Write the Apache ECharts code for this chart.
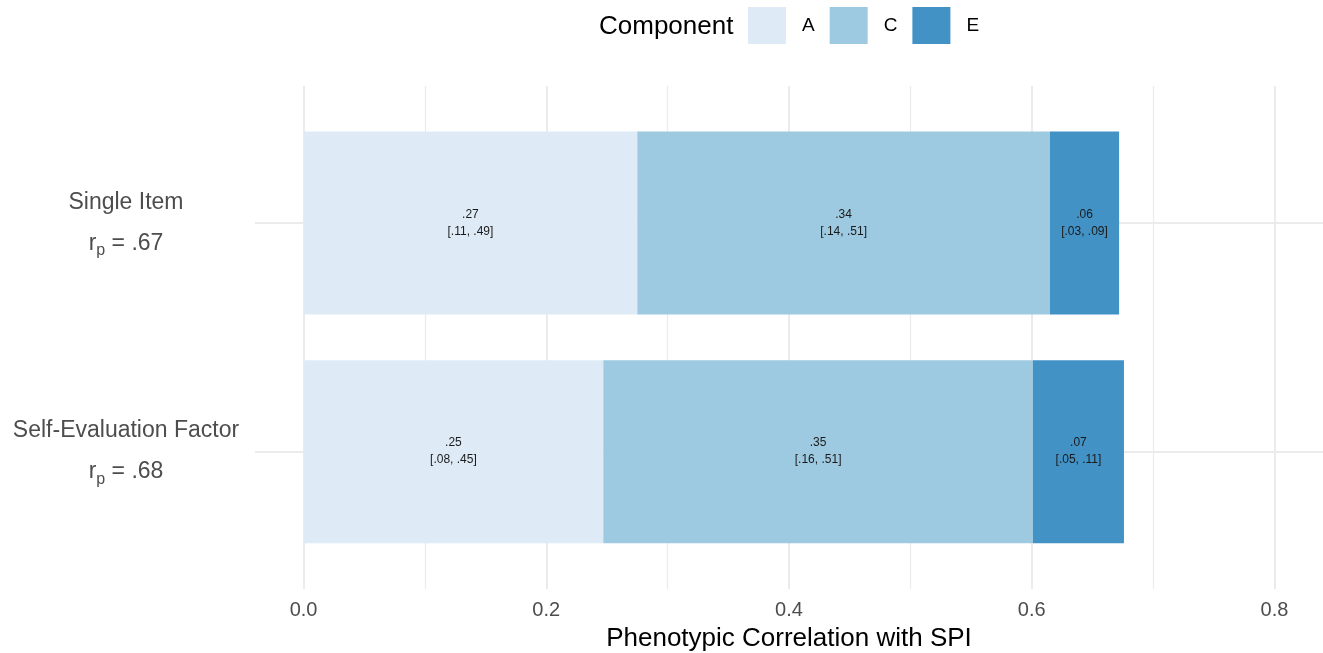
<!DOCTYPE html>
<html><head><meta charset="utf-8">
<script src="https://cdn.jsdelivr.net/npm/echarts@6/dist/echarts.min.js"></script>
<style>html,body{margin:0;padding:0;background:#fff}#c{width:1323px;height:653px}</style>
</head><body><div id="c"></div>
<script>
// categories listed bottom to top
const categories = ['Self-Evaluation Factor', 'Single Item'];
const rpLabels = ['.68', '.67'];
const components = ['A', 'C', 'E'];
const valuesA = [0.247, 0.275];
const valuesC = [0.354, 0.340];
const valuesE = [0.075, 0.057];
const estA = ['.25', '.27'];
const estC = ['.35', '.34'];
const estE = ['.07', '.06'];
const ciA = ['[.08, .45]', '[.11, .49]'];
const ciC = ['[.16, .51]', '[.14, .51]'];
const ciE = ['[.05, .11]', '[.03, .09]'];
const xMajorTicks = [0, 0.2, 0.4, 0.6, 0.8];
const xMinorTicks = [0.1, 0.3, 0.5, 0.7];
const colors = ['#deebf7', '#9ecae1', '#4292c6'];

const FONT = '"Liberation Sans", Arial, Helvetica, sans-serif';
const GRID = '#ebebeb';
const xMin = -0.04, xMax = 0.84;
const catPos = categories.map((_, i) => i + 1);

const seriesValues = [valuesA, valuesC, valuesE];
const seriesEst = [estA, estC, estE];
const seriesCi = [ciA, ciC, ciE];

const chart = echarts.init(document.getElementById('c'), null, {renderer: 'canvas'});
const option = {
  animation: false,
  backgroundColor: '#fff',
  textStyle: {fontFamily: FONT},
  color: colors,
  title: {
    text: 'Component', left: 594, top: 9,
    textStyle: {fontSize: 26, fontWeight: 'normal', color: '#000', fontFamily: FONT}
  },
  legend: {
    data: components, left: 743, top: 2, icon: 'rect',
    itemWidth: 38, itemHeight: 37, itemGap: 15,
    itemStyle: {borderWidth: 0},
    textStyle: {fontSize: 19, color: '#000', fontFamily: FONT, padding: [0, 0, 0, 11]}
  },
  grid: [
    {left: 255, right: 0, top: 86, bottom: 64, outerBoundsMode: 'none', containLabel: false},
    {left: 255, right: 0, top: 108.5, height: 457.5, outerBoundsMode: 'none', containLabel: false}
  ],
  xAxis: [
    {
      gridIndex: 0, type: 'value', min: xMin, max: xMax,
      axisLine: {show: false},
      axisTick: {show: false, customValues: xMajorTicks},
      axisLabel: {customValues: xMajorTicks, formatter: v => v.toFixed(1), fontSize: 20, color: '#4d4d4d', margin: 11},
      splitLine: {show: true, lineStyle: {color: GRID, width: 2}},
      name: 'Phenotypic Correlation with SPI', nameLocation: 'middle', nameGap: 37,
      nameTextStyle: {fontSize: 26, color: '#000'}
    },
    {
      gridIndex: 0, type: 'value', position: 'top', min: xMin, max: xMax,
      axisLine: {show: false},
      axisTick: {show: false, customValues: xMinorTicks},
      axisLabel: {show: false},
      splitLine: {show: true, lineStyle: {color: GRID, width: 1.2}}
    },
    {gridIndex: 1, type: 'value', min: xMin, max: xMax, show: false}
  ],
  yAxis: [
    {
      gridIndex: 0, type: 'value', min: 0.4, max: categories.length + 0.6,
      axisLine: {show: false},
      axisTick: {show: false, customValues: catPos},
      axisLabel: {show: false},
      splitLine: {show: true, lineStyle: {color: GRID, width: 2}}
    },
    {
      gridIndex: 1, type: 'category', data: categories,
      axisLine: {show: false}, axisTick: {show: false}, splitLine: {show: false},
      axisLabel: {
        margin: 129, align: 'center',
        formatter: (v, i) => '{t|' + v + '}\n{r|r}{s|p}{r| = ' + rpLabels[i] + '}',
        rich: {
          t: {fontSize: 23, color: '#4d4d4d', lineHeight: 41, align: 'center', fontFamily: FONT},
          r: {fontSize: 23, color: '#4d4d4d', lineHeight: 41, align: 'center', fontFamily: FONT},
          s: {fontSize: 16, color: '#4d4d4d', align: 'center', padding: [14, 0, 0, 0], fontFamily: FONT}
        }
      }
    }
  ],
  series: components.map((name, k) => ({
    name: name, type: 'bar', stack: 'total',
    xAxisIndex: 2, yAxisIndex: 1,
    barWidth: '80%',
    itemStyle: {color: colors[k], borderWidth: 0},
    label: {
      show: true, position: 'inside', color: '#1a1a1a', fontSize: 12, lineHeight: 17,
      fontFamily: FONT, padding: [4, 0, 0, 0],
      formatter: p => seriesEst[k][p.dataIndex] + '\n' + seriesCi[k][p.dataIndex]
    },
    data: seriesValues[k]
  }))
};
chart.setOption(option);
</script>
</body></html>
